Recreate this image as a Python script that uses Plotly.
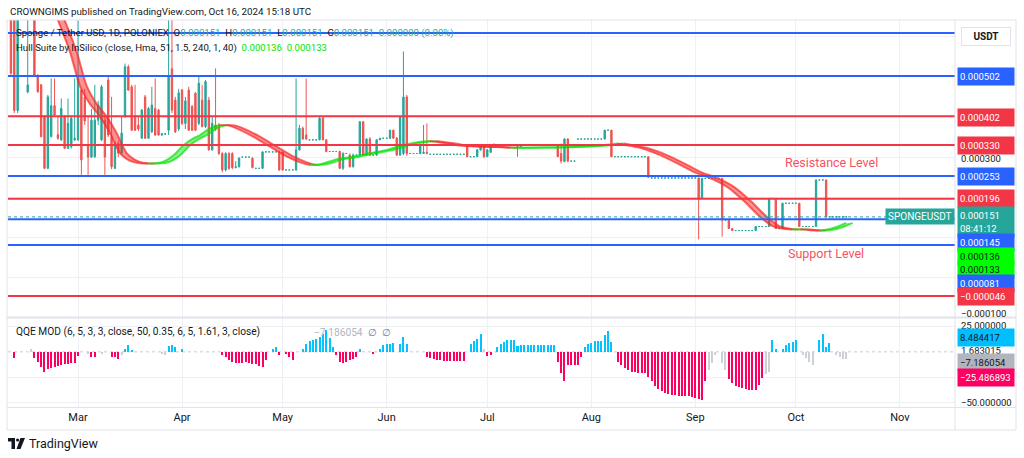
import plotly.graph_objects as go
import pandas as pd

W, H = 1024, 458
FONT = "Roboto, 'Open Sans', sans-serif"
TEAL, RED = "#26a69a", "#ef5350"
LBLUE, LRED = "#2962ff", "#f23645"

# ---------------- data (prices in units of 1e-6 USDT) ----------------
start_date = "2024-02-10"

open_e6 = [
    650, 660, 416, 650, 700, 462, 680, 680, 504, 480,
    401, 272, 351, 428, 356, 343, 401, 322, 326, 343,
    343, 467, 450, 330, 300, 301, 392, 343, 392, 492,
    351, 272, 334, 310, 401, 525, 475, 401, 380, 347,
    450, 347, 363, 421, 417, 355, 358, 367, 520, 442,
    370, 467, 384, 467, 426, 459, 384, 442, 376, 442,
    318, 380, 380, 309, 268, 309, 309, 274, 276, 300,
    300, 300, 297, 272, 272, 272, 313, 313, 313, 313,
    313, 313, 268, 268, 268, 268, 318, 372, 355, 343,
    343, 343, 343, 397, 343, 314, 314, 314, 314, 272,
    309, 305, 276, 305, 305, 388, 305, 345, 305, 305,
    343, 347, 347, 347, 367, 347, 305, 309, 450, 309,
    309, 309, 309, 309, 312, 307, 307, 307, 307, 307,
    307, 307, 307, 307, 307, 307, 328, 301, 301, 301,
    318, 330, 301, 312, 330, 330, 330, 330, 330, 330,
    330, 330, 326, 330, 330, 330, 330, 330, 330, 330,
    330, 330, 330, 330, 309, 289, 345, 290, 290, 345,
    345, 345, 345, 345, 345, 345, 345, 345, 367, 367,
    301, 301, 301, 301, 301, 301, 301, 301, 301, 301,
    301, 248, 248, 248, 248, 248, 248, 248, 248, 248,
    248, 248, 248, 248, 248, 248, 197, 247, 247, 247,
    247, 247, 247, 143, 143, 122, 117, 117, 117, 117,
    117, 117, 117, 127, 127, 127, 127, 197, 197, 122,
    122, 185, 185, 185, 185, 185, 127, 127, 127, 127,
    127, 243, 243, 243, 151, 151, 151, 151, 151, 151,
]
high_e6 = [
    700, 690, 700, 740, 720, 680, 720, 700, 506, 482,
    405, 455, 496, 496, 401, 446, 405, 446, 400, 496,
    641, 470, 470, 401, 420, 480, 440, 480, 400, 500,
    450, 340, 340, 400, 533, 530, 480, 480, 401, 420,
    455, 425, 475, 496, 420, 360, 360, 660, 650, 450,
    470, 470, 450, 475, 430, 462, 500, 480, 492, 450,
    400, 521, 385, 312, 312, 312, 312, 290, 300, 300,
    300, 300, 300, 272, 272, 314, 313, 313, 313, 313,
    314, 314, 268, 268, 268, 496, 380, 376, 496, 343,
    343, 343, 400, 400, 345, 314, 314, 314, 316, 312,
    309, 309, 309, 305, 390, 390, 347, 350, 305, 345,
    347, 347, 347, 368, 368, 350, 402, 563, 455, 309,
    309, 309, 332, 380, 384, 307, 307, 307, 307, 307,
    307, 307, 307, 307, 307, 307, 330, 301, 301, 320,
    332, 331, 320, 332, 333, 330, 330, 330, 330, 330,
    330, 331, 330, 330, 330, 330, 330, 330, 330, 330,
    330, 330, 330, 331, 334, 347, 347, 290, 290, 345,
    345, 345, 345, 345, 345, 345, 345, 368, 367, 368,
    301, 301, 301, 301, 301, 301, 301, 301, 301, 301,
    302, 248, 248, 248, 248, 248, 248, 248, 248, 248,
    248, 248, 248, 248, 248, 249, 248, 247, 247, 247,
    247, 247, 248, 143, 144, 122, 117, 117, 117, 117,
    117, 117, 128, 127, 127, 127, 198, 197, 198, 122,
    186, 185, 185, 185, 185, 186, 127, 127, 127, 127,
    244, 243, 243, 244, 151, 151, 151, 151, 151, 151,
]
low_e6 = [
    505, 410, 410, 645, 650, 459, 650, 500, 460, 349,
    270, 270, 349, 400, 343, 340, 320, 320, 322, 340,
    340, 256, 380, 256, 298, 298, 380, 340, 256, 350,
    270, 270, 300, 305, 398, 465, 365, 365, 365, 345,
    345, 345, 360, 353, 353, 353, 355, 355, 410, 360,
    365, 380, 370, 365, 365, 365, 380, 374, 372, 316,
    316, 365, 305, 262, 264, 268, 270, 272, 274, 300,
    300, 300, 272, 272, 272, 270, 313, 313, 313, 313,
    266, 266, 268, 268, 268, 266, 316, 343, 343, 343,
    343, 343, 342, 342, 312, 314, 314, 314, 270, 268,
    309, 274, 274, 305, 303, 303, 303, 303, 305, 303,
    343, 347, 347, 345, 346, 303, 303, 305, 303, 309,
    309, 309, 307, 308, 307, 307, 307, 307, 307, 307,
    307, 307, 307, 307, 307, 307, 300, 301, 301, 300,
    316, 298, 300, 310, 328, 330, 330, 330, 330, 330,
    330, 301, 325, 330, 330, 330, 330, 330, 330, 330,
    330, 330, 330, 300, 284, 287, 287, 290, 290, 345,
    345, 345, 345, 345, 345, 345, 345, 344, 367, 300,
    301, 301, 301, 301, 301, 301, 301, 301, 301, 301,
    248, 248, 248, 248, 248, 248, 248, 248, 248, 248,
    248, 248, 248, 248, 248, 95, 196, 247, 247, 247,
    247, 247, 102, 143, 121, 117, 117, 117, 117, 117,
    117, 117, 116, 127, 127, 127, 126, 197, 121, 122,
    121, 185, 185, 185, 185, 126, 127, 127, 127, 127,
    126, 243, 243, 150, 151, 151, 151, 151, 151, 151,
]
close_e6 = [
    509, 416, 650, 700, 660, 480, 700, 504, 463, 351,
    272, 450, 428, 405, 347, 421, 322, 384, 397, 347,
    496, 293, 390, 300, 392, 392, 430, 475, 300, 355,
    276, 334, 310, 360, 525, 467, 367, 367, 370, 417,
    347, 421, 430, 355, 355, 358, 358, 500, 417, 363,
    460, 384, 440, 367, 367, 367, 484, 376, 488, 318,
    384, 370, 309, 268, 309, 272, 274, 276, 297, 300,
    300, 300, 274, 272, 272, 313, 313, 313, 313, 313,
    268, 268, 268, 268, 268, 318, 372, 345, 345, 343,
    343, 343, 397, 343, 314, 314, 314, 314, 272, 309,
    309, 276, 305, 305, 388, 305, 345, 305, 305, 343,
    347, 347, 347, 367, 347, 305, 401, 450, 309, 309,
    309, 309, 330, 312, 309, 307, 307, 307, 307, 307,
    307, 307, 307, 307, 307, 307, 301, 301, 301, 318,
    330, 301, 318, 330, 332, 330, 330, 330, 330, 330,
    330, 326, 328, 330, 330, 330, 330, 330, 330, 330,
    330, 330, 330, 301, 290, 345, 290, 290, 290, 345,
    345, 345, 345, 345, 345, 345, 345, 367, 367, 301,
    301, 301, 301, 301, 301, 301, 301, 301, 301, 301,
    250, 248, 248, 248, 248, 248, 248, 248, 248, 248,
    248, 248, 248, 248, 248, 197, 247, 247, 247, 247,
    247, 247, 143, 143, 122, 117, 117, 117, 117, 117,
    117, 117, 127, 127, 127, 127, 197, 197, 122, 122,
    185, 185, 185, 185, 185, 127, 127, 127, 127, 127,
    243, 243, 243, 151, 151, 151, 151, 151, 151, 151,
]

# Hull Suite knots: day offset from start_date, value (1e-6), 1 = rising (lime) segment
hull_day = [10.2, 14.0, 17.6, 20.6, 23.6, 25.7, 28.0, 29.5, 32.5, 34.6, 36.4, 39.1, 40.9,
            44.4, 46.5, 48.9, 51.3, 54.0, 56.4, 58.8, 60.5, 62.3,
            64.7, 67.4, 72.2, 77.2, 82.3, 86.2, 89.2,
            92.1, 97.2, 102.0, 107.0, 112.1, 116.9, 122.0, 124.9,
            130.9, 134.7, 139.8, 144.9, 148.8,
            154.7, 164.6, 174.7, 180.7,
            184.5, 188.4, 193.5, 198.5, 203.3, 208.4, 213.5, 218.2, 223.3, 227.1, 230.7, 232.8,
            235.2, 238.2, 241.2, 244.1, 246.5, 248.9]
hull_e6 = [716, 641, 562, 477, 432, 410, 382, 360, 310, 295, 288, 284, 284,
           286, 293, 308, 329, 345, 355, 369, 376, 380,
           379, 371, 351, 326, 301, 287, 280,
           282, 295, 301, 310, 318, 330, 338, 340,
           333, 328, 326, 325, 323,
           323.5, 324.5, 328, 334,
           328, 321, 305, 285, 264, 248, 226, 193, 151.5, 128, 121, 119.5,
           120, 118, 117, 121, 127, 136]
hull_up = [0, 0, 0, 0, 0, 0, 0, 0, 0, 0, 0, 0, 0,
           1, 1, 1, 1, 1, 1, 1, 1, 1,
           0, 0, 0, 0, 0, 0, 0,
           1, 1, 1, 1, 1, 1, 1, 1,
           0, 0, 0, 0, 0,
           1, 1, 1, 1,
           0, 0, 0, 0, 0, 0, 0, 0, 0, 0, 0, 0,
           1, 0, 0, 1, 1, 1]

# QQE MOD histogram, one value per day (None = no bar); colour codes r/b/g
qqe_val = [
    None, -6.5, None, None, None, None, 3, -6.5, -9.7, -14.6,
    -19.5, -17, -16, -15, -13.5, -12.5, -11.5, -11.5, -11, -11.4,
    -4, None, None, -2, -5, -5, None, -2, None, None,
    -5.5, -5, -7.5, -3, 3.2, 6.5, 2.3, None, None, None,
    None, None, None, None, None, -2.5, -3, 5.5, 7.1, 5,
    None, 3, None, None, None, None, None, None, None, None,
    None, None, None, -3.2, -5.5, -8.1, -9.7, -11.4, -11, -11.4,
    -9.7, -10.7, -12, -12.3, -14, -14.5, -8, None, 3, 4.5,
    -3, None, -2.3, -4.9, -8.1, None, None, 3, 8, 11,
    12, 13, 15, 18, 22, 14, 5, -3.2, -9.7, -11.4,
    -9.7, -8.1, -7.5, -4.9, 3, None, None, None, -2, None,
    3.2, 6.5, 7.5, 8, 8.8, None, 8.1, 14.6, 8.1, None,
    None, None, None, None, -4.9, -6.5, -7.5, -8.1, -8.4, -8.8,
    -9.1, -9.4, -9.4, -9.4, -9.1, -8.8, None, 8.1, 10.7, 13,
    17.2, 3, -4.5, -3, None, 4.9, 8, 9.5, 11.5, 12,
    12, 5.5, 7, 7.1, 7, 7.1, 7, 7, 7.1, 7,
    7, 7.1, 7, -9.7, -20.5, -29, -13, -13, -13, -13,
    -5, 4.9, 8.1, 9.1, 10.4, 10.7, 10.7, 16.2, 20.5, 9.7,
    None, -9.7, -13, -16.2, -17.9, -19.5, -20.1, -20.5, -20.5, -20.5,
    -24.4, -29.2, -34.1, -36.7, -39, -40.6, -41.6, -42.2, -42.9, -43.2,
    -43.2, -43.5, -43.8, -44.5, -45.2, -46.4, -47.1, -29, -17.9, -11.4,
    -3.2, None, -11.4, -17.9, -26.9, -30.8, -33.4, -34.7, -35.7, -36.7,
    -37.3, -38, -37.3, -32.5, -26, -21.4, -19.5, 11.4, 3.2, None,
    3.2, 6.5, 8.8, 9.7, 11.4, None, -3.2, -6.5, -9.7, -13,
    None, 11.4, 17.2, 4.9, 8.8, None, -3.2, -4.9, -7.5, -7.2,
]
qqe_col = ("" ".r....grrr" "rrrrrrrrrr" "r..grr.g.." "rrrgbbb..." ".....ggbbb"
           ".b........" "...rrrrrrr" "rrrrrrr.bb" "r.rrr..bbb" "bbbbbbbrrr"
           "rrrrb...r." "bbbbb.bbb." "....rrrrrr" "rrrrrr.bbb" "bgrr.bbbbb"
           "bbbbbbbbbb" "bbbrrrrrrr" "rbbbbbbbbb" ".rrrrrrrrr" "rrrrrrrrrr"
           "rrrrrrrrgg" "g.ggrrrrrr" "rrrrrggbb." "bbbbb.gggg" ".bbbb.gggg")

# horizontal drawn levels (1e-6) and their colours
level_e6 = [609, 502, 402, 330, 253, 196, 145, 81, -46]
level_col = ["b", "b", "r", "r", "b", "r", "b", "b", "r"]
last_price_e6 = 151

# ---------------- figure ----------------
S = 1e-6
dates = pd.date_range(start_date, periods=len(close_e6), freq="D")
base = pd.Timestamp(start_date)


def PX(x):
    return x / W


def PY(y):
    return 1 - y / H


fig = go.Figure()

up = [c >= o for o, c in zip(open_e6, close_e6)]
dn = [not u for u in up]


def pick(vals, mask):
    return [v * S if m else None for v, m in zip(vals, mask)]


for mask, col in ((up, TEAL), (dn, RED)):
    fig.add_trace(go.Candlestick(
        x=dates, open=pick(open_e6, mask), high=pick(high_e6, mask),
        low=pick(low_e6, mask), close=pick(close_e6, mask),
        increasing=dict(line=dict(color=col, width=1), fillcolor=col),
        decreasing=dict(line=dict(color=col, width=1), fillcolor=col),
        whiskerwidth=0, xaxis="x", yaxis="y", hoverinfo="skip", showlegend=False))

# Hull band: segments of equal trend; band between HMA and HMA shifted by 2 bars
segs = []
cur = [0]
for i in range(1, len(hull_day)):
    if i > 1 and hull_up[i] != hull_up[i - 1]:
        segs.append((hull_up[i - 1], cur))
        cur = [i - 1]
    cur.append(i)
segs.append((hull_up[-1], cur))

for upflag, idx in segs:
    edge = "rgba(0,225,0,0.65)" if upflag else "rgba(250,40,40,0.7)"
    fill = "rgba(0,225,0,0.45)" if upflag else "rgba(250,40,40,0.5)"
    xa = [base + pd.Timedelta(days=hull_day[i]) for i in idx]
    xb = [base + pd.Timedelta(days=hull_day[i] + 2) for i in idx]
    ys = [hull_e6[i] * S for i in idx]
    fig.add_trace(go.Scatter(x=xa, y=ys, mode="lines", line=dict(color=edge, width=2, shape="spline", smoothing=0.8),
                             xaxis="x", yaxis="y", hoverinfo="skip", showlegend=False))
    fig.add_trace(go.Scatter(x=xb, y=ys, mode="lines", line=dict(color=edge, width=2, shape="spline", smoothing=0.8),
                             fill="tonexty", fillcolor=fill,
                             xaxis="x", yaxis="y", hoverinfo="skip", showlegend=False))

# QQE histogram
qmap = {"r": "#ff0062", "b": "#00c3ff", "g": "#cdd0d5", ".": "rgba(0,0,0,0)"}
fig.add_trace(go.Bar(x=dates, y=qqe_val, marker=dict(color=[qmap[c] for c in qqe_col], line=dict(width=0)),
                     width=0.6 * 86400000, xaxis="x2", yaxis="y2", hoverinfo="skip", showlegend=False))

X0, X1 = 8, 955
xrange = ["2024-02-09 03:00", "2024-11-17 10:00"]
grid = "#eef0f5"

fig.update_layout(
    width=W, height=H, margin=dict(l=0, r=0, t=0, b=0),
    paper_bgcolor="white", plot_bgcolor="white", showlegend=False,
    boxgap=0.42, bargap=0,
    xaxis=dict(domain=[PX(X0), PX(X1)], range=xrange, type="date", anchor="y",
               showticklabels=False, showgrid=True, gridcolor=grid, zeroline=False,
               tick0="2024-03-01", dtick="M1", ticks="", rangeslider=dict(visible=False), showline=False),
    xaxis2=dict(domain=[PX(X0), PX(X1)], range=xrange, type="date", anchor="y2", matches="x",
                showticklabels=True, tickformat="%b", tick0="2024-03-01", dtick="M1", ticks="",
                tickfont=dict(family=FONT, size=11, color="#131722"), ticklabelstandoff=2,
                showgrid=True, gridcolor=grid, zeroline=False, rangeslider=dict(visible=False), showline=False),
    yaxis=dict(domain=[PY(317), PY(20)], range=[-98.3e-6, 641.5e-6], anchor="x",
               showticklabels=False, showgrid=True, gridcolor=grid,
               tickvals=[v * 1e-4 for v in (-1, 0, 1, 2, 3, 4, 5, 6)], zeroline=False),
    yaxis2=dict(domain=[PY(407), PY(318)], range=[-54.4, 33.4], anchor="x2",
                showticklabels=False, showgrid=True, gridcolor=grid, tickvals=[25, -25, -50], zeroline=False),
)

shapes = []
for v, c in zip(level_e6, level_col):
    shapes.append(dict(type="line", xref="paper", yref="y", x0=PX(X0), x1=PX(X1), y0=v * S, y1=v * S,
                       line=dict(color=LBLUE if c == "b" else LRED, width=2), layer="above"))
shapes.append(dict(type="line", xref="paper", yref="y", x0=PX(X0), x1=PX(890), y0=last_price_e6 * S,
                   y1=last_price_e6 * S, line=dict(color=TEAL, width=1, dash="dot"), layer="above"))
shapes.append(dict(type="line", xref="paper", yref="y2", x0=PX(X0), x1=PX(X1), y0=0, y1=0,
                   line=dict(color="#c8cbd2", width=1, dash="dot"), layer="below"))
frame = "#e0e3eb"
shapes += [
    dict(type="rect", xref="paper", yref="paper", x0=PX(7), x1=PX(1016), y0=PY(430), y1=PY(20),
         line=dict(color=frame, width=1)),
    dict(type="line", xref="paper", yref="paper", x0=PX(X1), x1=PX(X1), y0=PY(430), y1=PY(20),
         line=dict(color=frame, width=1)),
    dict(type="line", xref="paper", yref="paper", x0=PX(7), x1=PX(1016), y0=PY(317.5), y1=PY(317.5),
         line=dict(color=frame, width=2)),
    dict(type="line", xref="paper", yref="paper", x0=PX(7), x1=PX(1016), y0=PY(407.5), y1=PY(407.5),
         line=dict(color=frame, width=1)),
]


def path(pts):
    return "M " + " L ".join(f"{PX(x)},{PY(y)}" for x, y in pts) + " Z"


shapes += [
    dict(type="path", xref="paper", yref="paper", line=dict(width=0), fillcolor="#131722",
         path=path([(8, 438), (15, 438), (15, 449), (11.5, 449), (11.5, 441.5), (8, 441.5)])),
    dict(type="circle", xref="paper", yref="paper", line=dict(width=0), fillcolor="#131722",
         x0=PX(16), x1=PX(19.2), y0=PY(441.6), y1=PY(438.4)),
    dict(type="path", xref="paper", yref="paper", line=dict(width=0), fillcolor="#131722",
         path=path([(20.5, 438), (25, 438), (20.5, 449), (16.5, 449)])),
]
fig.update_layout(shapes=shapes)

anns = []


def text(t, x, y, size=10, color="#131722", xanchor="left", **kw):
    anns.append(dict(text=t, x=PX(x), y=PY(y), xref="paper", yref="paper", xanchor=xanchor,
                     yanchor="middle", showarrow=False, font=dict(family=FONT, size=size, color=color), **kw))


def axbox(t, y, bg, fg, h=13):
    anns.append(dict(text=t, x=PX(957), y=PY(y), xref="paper", yref="paper", xanchor="left",
                     yanchor="middle", showarrow=False, font=dict(family=FONT, size=9.5, color=fg),
                     bgcolor=bg, width=52, height=h, borderpad=2, align="left"))


NB = "\u00a0"
tv = lambda s: f'<span style="color:{TEAL}">{s}</span>'
text("CROWNGIMS published on TradingView.com, Oct 16, 2024 15:18 UTC", 8, 12, size=9.8)
text("Sponge / Tether USD, 1D, POLONIEX" + NB * 2 + "O" + tv("0.000151") + NB * 2 + "H" + tv("0.000151")
     + NB * 2 + "L" + tv("0.000151") + NB * 2 + "C" + tv("0.000151") + NB * 2 + tv("0.000000 (0.00%)"),
     14, 33, size=9.6)
gv = lambda s: f'<span style="color:#00e600">{s}</span>'
text("Hull Suite by InSilico (close, Hma, 51, 1.5, 240, 1, 40)" + NB * 2 + gv("0.000136") + NB * 2 + gv("0.000133"),
     14, 47.5, size=9.6)
text("QQE MOD (6, 5, 3, 3, close, 50, 0.35, 6, 5, 1.61, 3, close)", 14, 332, size=10.2)
text(f'<span style="color:#b2b5be">\u22127.186054</span>' + NB * 2 + "\u2205" + NB * 2 + "\u2205",
     312, 332, size=10.2, color="#787b86")
text("Resistance Level", 783, 162.5, size=12.5, color="#f7525f")
text("Support Level", 786, 253.5, size=12.5, color="#f7525f")
anns.append(dict(text="SPONGEUSDT", x=PX(955), y=PY(216), xref="paper", yref="paper", xanchor="right",
                 yanchor="middle", showarrow=False, font=dict(family=FONT, size=10, color="white"),
                 bgcolor=TEAL, borderpad=2))
text("TradingView", 27, 443.5, size=12.5)

# right price axis labels
anns.append(dict(text="<b>USDT</b>", x=PX(986), y=PY(36.5), xref="paper", yref="paper", xanchor="center",
                 yanchor="middle", showarrow=False, font=dict(family=FONT, size=10, color="#131722"),
                 bgcolor="white", bordercolor="#e0e3eb", borderwidth=1, width=46, height=15, borderpad=1))
axbox("0.000502", 76.5, LBLUE, "white")
axbox("0.000402", 117, LRED, "white")
axbox("0.000330", 146, LRED, "white")
text("0.000300", 959, 158.5, size=9.5)
axbox("0.000253", 177, LBLUE, "white")
axbox("0.000196", 199, LRED, "white")
axbox("0.000151<br>08:41:12", 222, TEAL, "white", h=26)
axbox("0.000145", 242, LBLUE, "white")
axbox("0.000136", 256, "#00ff00", "#131722")
axbox("0.000133", 269.5, "#00ff00", "#131722")
axbox("0.000081", 283, LBLUE, "white")
axbox("\u22120.000046", 296.5, LRED, "white")
text("\u22120.000100", 959, 313, size=9.5)
# QQE axis labels
text("25.000000", 959, 325, size=9.5)
axbox("8.484417", 337, "#00bfff", "#131722")
text("1.683015", 959, 350, size=9.5)
axbox("\u22127.186054", 362, "#b2b5be", "#131722")
axbox("\u221225.486893", 377, "#ff0062", "white")
text("\u221250.000000", 959, 402, size=9.5)

fig.update_layout(annotations=anns)
fig.write_html(
    "out.html",
    config={"displayModeBar": False, "staticPlot": True},
    post_script="document.body.style.margin='0';document.body.style.padding='0';"
                "document.documentElement.style.overflow='hidden';",
)
